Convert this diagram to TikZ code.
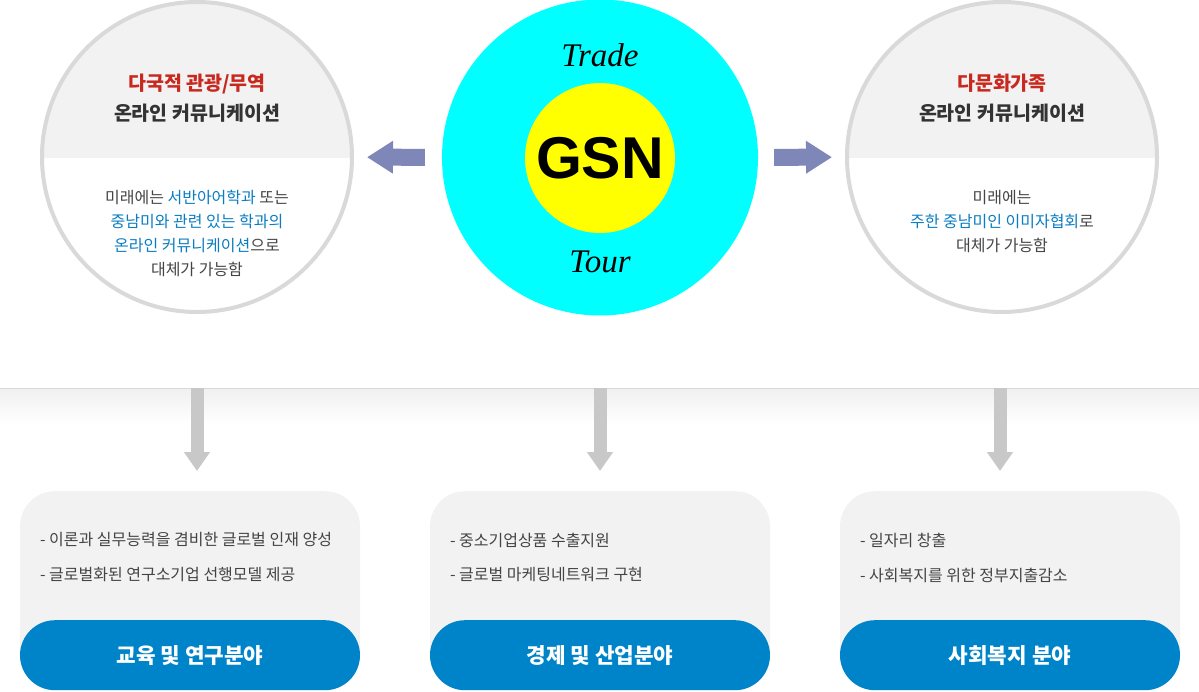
\documentclass[tikz,border=0pt]{standalone}
\usepackage{fontspec}
\newfontfamily\kr{Noto Sans CJK KR}
\newfontfamily\gsnfont{Liberation Sans}
\newfontfamily\tradefont{Liberation Serif}
\usetikzlibrary{arrows.meta, positioning, calc}

\definecolor{ringgray}{HTML}{D9D9D9}
\definecolor{boxgray}{HTML}{F2F2F2}
\definecolor{arrowpurple}{HTML}{7F86B8}
\definecolor{downgray}{HTML}{C8C8C8}
\definecolor{pillblue}{HTML}{0084C9}
\definecolor{textblue}{HTML}{0A7DC2}
\definecolor{titlered}{HTML}{C8281E}
\definecolor{textdark}{HTML}{333333}
\definecolor{bodygray}{HTML}{444444}
\definecolor{gsncyan}{HTML}{00FFFF}
\definecolor{gsnyellow}{HTML}{FFFF00}

\tikzset{
  titletext/.style={align=center, text=textdark, font=\kr\bfseries\fontsize{19.5}{30}\selectfont},
  bodytext/.style={align=center, text=bodygray, font=\kr\fontsize{16}{24}\selectfont},
  sidearrow/.style={draw=arrowpurple, line width=17pt, -{Triangle[length=26pt, width=31pt]}},
  downarrow/.style={draw=downgray, line width=13pt, -{Triangle[length=19pt, width=25pt]}},
  infobox/.style={fill=boxgray, rounded corners=35pt, minimum width=340pt, minimum height=199pt},
  pillbox/.style={fill=pillblue, rounded corners=35pt, minimum width=340pt, minimum height=70pt,
    text=white, font=\kr\bfseries\fontsize{21.3}{24}\selectfont},
  bullet/.style={text=bodygray, font=\kr\fontsize{16}{18}\selectfont}
}
\newcommand{\hl}[1]{\textcolor{textblue}{#1}}

\begin{document}
\begin{tikzpicture}[x=1pt, y=-1pt, every node/.style={inner sep=0pt}]
    \useasboundingbox (0,0) rectangle (1199,692);

    % Separator with soft shadow
    \shade[top color=black!6, bottom color=white] (0,388) rectangle (1199,424);
    \draw[ringgray, line width=1pt] (0,388) -- (1199,388);

    % Side circles, grey upper half
    \foreach \n/\x in {1/197, 3/1002} {
        \begin{scope}
            \clip (\x,157) circle (155);
            \fill[boxgray] (\x-160,0) rectangle (\x+160,158);
        \end{scope}
        \node[circle, draw=ringgray, line width=4pt, minimum size=310pt] (circ\n) at (\x,157) {};
    }

    % Centre: GSN
    \node[circle, fill=gsncyan, minimum size=316pt] (gsn) at (600,157.5) {};
    \node[circle, fill=gsnyellow, minimum size=150pt, font=\gsnfont\bfseries\fontsize{59}{60}\selectfont] (core) at (600,158) {GSN};
    \node[above=16pt of core, font=\tradefont\itshape\fontsize{33}{36}\selectfont] (trade) {Trade};
    \node[below=17pt of core, font=\tradefont\itshape\fontsize{33}{36}\selectfont] (tour) {Tour};

    % Arrows to side circles
    \draw[sidearrow, shorten <=17pt, shorten >=13pt] (gsn) -- (circ1);
    \draw[sidearrow, shorten <=16pt, shorten >=13pt] (gsn) -- (circ3);

    % Circle texts
    \node[titletext] (title1) at (197,98) {\textcolor{titlered}{다국적 관광/무역}\\온라인 커뮤니케이션};
    \node[bodytext] (body1) at (197,233) {미래에는 \hl{서반아어학과} 또는\\\hl{중남미와 관련 있는 학과의}\\\hl{온라인 커뮤니케이션}으로\\대체가 가능함};
    \node[titletext] (title3) at (1002,98) {\textcolor{titlered}{다문화가족}\\온라인 커뮤니케이션};
    \node[bodytext] (body3) at (1002,222) {미래에는\\\hl{주한 중남미인 이미자협회}로\\대체가 가능함};

    % Fields below
    \foreach \n/\x/\ax/\la/\lb/\lab in {
        1/190/197/이론과 실무능력을 겸비한 글로벌 인재 양성/글로벌화된 연구소기업 선행모델 제공/교육 및 연구분야,
        2/600/600/중소기업상품 수출지원/글로벌 마케팅네트워크 구현/경제 및 산업분야,
        3/1010/1000/일자리 창출/사회복지를 위한 정부지출감소/사회복지 분야} {
        \coordinate (top\n) at (\ax,388);
        \node[infobox, anchor=north] (box\n) at (\x,491) {};
        \node[pillbox, anchor=south] (pill\n) at (box\n.south) {\lab};
        \node[bullet, anchor=west] (item\n a) at ($(box\n.north west)+(20,49)$) {- \la};
        \node[bullet, anchor=west] (item\n b) at ($(box\n.north west)+(20,84)$) {- \lb};
        \draw[downarrow, shorten >=20pt] (top\n) -- (top\n |- box\n.north);
    }
\end{tikzpicture}
\end{document}
